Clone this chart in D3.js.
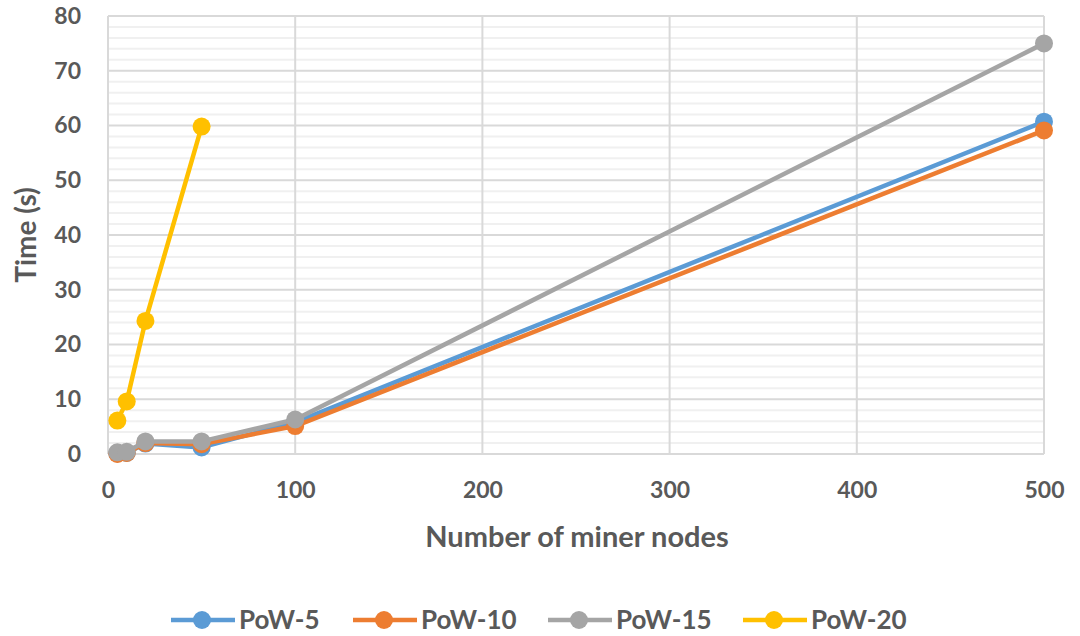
<!DOCTYPE html>
<html>
<head>
<meta charset="utf-8">
<script src="https://cdn.jsdelivr.net/npm/d3@7"></script>
<style>
  body { margin: 0; background: #fff; }
  svg { display: block; font-family: Lato, "Open Sans", sans-serif; }
</style>
</head>
<body>
<svg id="chart"></svg>
<script>
// miner node counts on the x axis
nodeCounts = [5, 10, 20, 50, 100, 500]
seriesNames = ["PoW-5", "PoW-10", "PoW-15", "PoW-20"]
seriesColors = ["#5B9BD5", "#ED7D31", "#A5A5A5", "#FFC000"]
pow5 = [0.1, 0.2, 1.9, 1.2, 5.8, 60.7]
pow10 = [0.0, 0.2, 2.0, 1.8, 5.1, 59.1]
pow15 = [0.3, 0.4, 2.3, 2.3, 6.3, 75.0]
pow20 = [6.1, 9.6, 24.3, 59.8]   // only measured up to 50 nodes
xTicks = [0, 100, 200, 300, 400, 500]
yTicks = [0, 10, 20, 30, 40, 50, 60, 70, 80]

width = 1080
height = 636

chart = function() {
    const margin = { left: 108, right: 36, top: 16, bottom: 182 },
        textColor = "#595959";

    const svg = d3.select("#chart").attr("width", width).attr("height", height);

    const x = d3.scaleLinear().domain([0, 500]).range([margin.left, width - margin.right]);
    const y = d3.scaleLinear().domain([0, 80]).range([height - margin.bottom, margin.top]);

    const series = [pow5, pow10, pow15, pow20].map((vals, i) => ({
        name: seriesNames[i],
        color: seriesColors[i],
        points: vals.map((v, j) => [nodeCounts[j], v])
    }));

    // minor gridlines every 2 s
    svg.append("g")
        .selectAll("line")
        .data(d3.range(0, 81, 2).filter(v => v % 10 !== 0))
        .join("line")
        .attr("x1", x(0)).attr("x2", x(500))
        .attr("y1", d => y(d)).attr("y2", d => y(d))
        .attr("stroke", "#f0f0f0").attr("stroke-width", 2);

    // major gridlines
    svg.append("g")
        .selectAll("line")
        .data(yTicks)
        .join("line")
        .attr("x1", x(0)).attr("x2", x(500))
        .attr("y1", d => y(d)).attr("y2", d => y(d))
        .attr("stroke", "#d9d9d9").attr("stroke-width", 2);

    svg.append("g")
        .selectAll("line")
        .data(xTicks)
        .join("line")
        .attr("x1", d => x(d)).attr("x2", d => x(d))
        .attr("y1", y(0)).attr("y2", y(80))
        .attr("stroke", "#d9d9d9").attr("stroke-width", 2);

    // axes, labels only
    const yAxis = svg.append("g")
        .attr("transform", `translate(${x(0) - 24},0)`)
        .call(d3.axisLeft(y).tickValues(yTicks).tickSize(0));
    const xAxis = svg.append("g")
        .attr("transform", `translate(0,${y(0) + 20})`)
        .call(d3.axisBottom(x).tickValues(xTicks).tickSize(0));
    for (const ax of [xAxis, yAxis]) {
        ax.select(".domain").remove();
        ax.selectAll("text")
            .attr("fill", textColor)
            .attr("font-size", 23)
            .attr("font-weight", 700)
            .attr("font-family", "Lato, sans-serif");
    }
    xAxis.selectAll("text").attr("dy", "0.9em");

    // titles
    svg.append("text")
        .attr("x", 577).attr("y", 547)
        .attr("text-anchor", "middle")
        .attr("fill", textColor).attr("font-size", 29).attr("font-weight", 700)
        .text("Number of miner nodes");
    svg.append("text")
        .attr("transform", `translate(36,${y(40)}) rotate(-90)`)
        .attr("text-anchor", "middle")
        .attr("fill", textColor).attr("font-size", 28).attr("font-weight", 700)
        .text("Time (s)");

    // lines and markers
    const line = d3.line().x(d => x(d[0])).y(d => y(d[1]));
    const g = svg.append("g")
        .selectAll("g")
        .data(series)
        .join("g");
    g.append("path")
        .attr("d", d => line(d.points))
        .attr("fill", "none")
        .attr("stroke", d => d.color)
        .attr("stroke-width", 4.5)
        .attr("stroke-linejoin", "round");
    g.selectAll("circle")
        .data(d => d.points.map(p => ({ p, color: d.color })))
        .join("circle")
        .attr("cx", d => x(d.p[0]))
        .attr("cy", d => y(d.p[1]))
        .attr("r", 9)
        .attr("fill", d => d.color);

    // legend
    const legendX = [171, 353, 548, 743];
    const legend = svg.append("g")
        .selectAll("g")
        .data(series)
        .join("g")
        .attr("transform", (d, i) => `translate(${legendX[i]},620)`);
    legend.append("line")
        .attr("x1", 0).attr("x2", 64)
        .attr("stroke", d => d.color).attr("stroke-width", 4.5);
    legend.append("circle")
        .attr("cx", 31).attr("r", 9)
        .attr("fill", d => d.color);
    legend.append("text")
        .attr("x", 68).attr("y", 0).attr("dy", "0.36em")
        .attr("fill", textColor).attr("font-size", 26).attr("font-weight", 700)
        .text(d => d.name);

    return svg.node();
}
chart()
</script>
</body>
</html>
